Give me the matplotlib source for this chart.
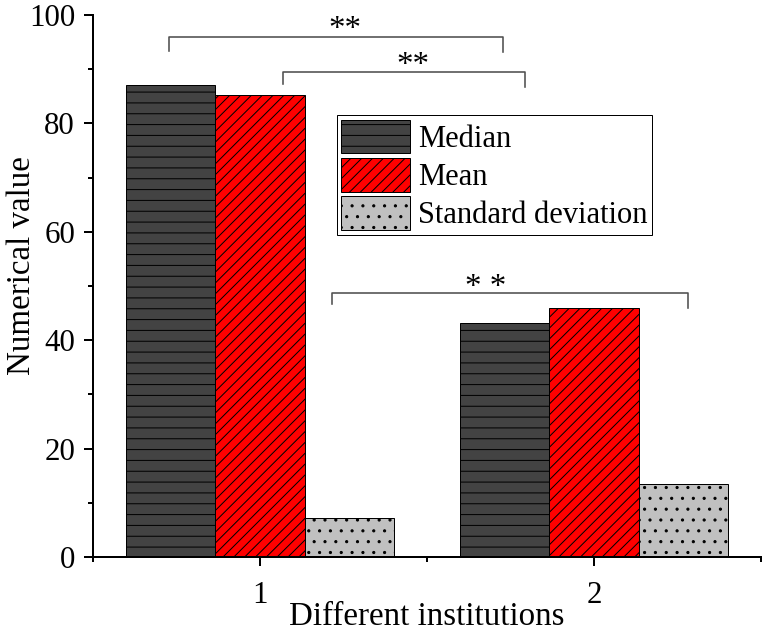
import numpy as np
import matplotlib
matplotlib.use("Agg")
import matplotlib.pyplot as plt
from matplotlib.ticker import MultipleLocator, FixedLocator

# === Data ===
groups = [1, 2]
series_names = ["Median", "Mean", "Standard deviation"]
median_vals = [87.1, 43.2]
mean_vals = [85.3, 46.0]
std_vals = [7.2, 13.5]

# significance brackets: left x, right x, bar y, left leg end, right leg end, label, label x, label y
bracket_left = [0.728, 1.068, 1.215]
bracket_right = [1.728, 1.793, 2.281]
bracket_y = [95.9, 89.4, 48.8]
bracket_leg_left = [93.4, 87.3, 46.7]
bracket_leg_right = [93.2, 86.7, 46.0]
bracket_text = ["**", "**", "* *"]
bracket_text_x = [1.255, 1.458, 1.677]
bracket_text_y = [97.3, 90.7, 49.6]

# === Style ===
DPI = 65
def pt(px):
    return px * 72.0 / DPI

plt.rcParams['font.family'] = ['Liberation Serif', 'DejaVu Serif']
plt.rcParams['hatch.linewidth'] = pt(1.0)

colors = ['#434343', '#ff0000', '#c0c0c0']
hatches = ['-', '//', '.']
tick_fs = pt(31)
label_fs = pt(33)
legend_fs = pt(30.5)

fig = plt.figure(figsize=(765 / DPI, 633 / DPI), dpi=DPI)
ax = fig.add_axes([93 / 765, 1 - 557 / 633, 668 / 765, 542 / 633])

width = 0.8 / 3
x = np.array(groups, dtype=float)
for i, (vals, name) in enumerate(zip([median_vals, mean_vals, std_vals], series_names)):
    ax.bar(x + (i - 1) * width, vals, width, color=colors[i], edgecolor='black',
           linewidth=pt(1.0), hatch=hatches[i], label=name, zorder=2)

# === Significance brackets ===
for i in range(len(bracket_y)):
    ax.plot([bracket_left[i], bracket_left[i], bracket_right[i], bracket_right[i]],
            [bracket_leg_left[i], bracket_y[i], bracket_y[i], bracket_leg_right[i]],
            color='#505050', lw=pt(1.6), clip_on=False, zorder=3)
    ax.text(bracket_text_x[i], bracket_text_y[i], bracket_text[i], ha='center',
            va='center', fontsize=pt(33), color='black')

# === Axes formatting ===
ax.set_xlim(0.5, 2.5)
ax.set_ylim(0, 100)
ax.xaxis.set_major_locator(FixedLocator([1, 2]))
ax.xaxis.set_minor_locator(FixedLocator([0.5, 1.5, 2.5]))
ax.yaxis.set_major_locator(MultipleLocator(20))
ax.yaxis.set_minor_locator(MultipleLocator(10))
ax.spines['top'].set_visible(False)
ax.spines['right'].set_visible(False)
for s in ['left', 'bottom']:
    ax.spines[s].set_linewidth(pt(2.0))
ax.tick_params(which='major', length=pt(9), width=pt(2.0), labelsize=tick_fs)
ax.tick_params(axis='y', which='major', pad=pt(9))
ax.tick_params(axis='x', which='major', pad=pt(15))
ax.tick_params(which='minor', length=pt(5), width=pt(2.0))

ax.set_xlabel('Different institutions', fontsize=label_fs)
ax.set_ylabel('Numerical value', fontsize=label_fs)
ax.xaxis.set_label_coords(0.5, -0.0825)
ax.yaxis.set_label_coords(-0.0838, 0.538)

leg = ax.legend(loc='upper left', bbox_to_anchor=(0.365, 0.8155), borderaxespad=0,
                frameon=True, fancybox=False, edgecolor='black', framealpha=1,
                handlelength=2.25, handleheight=1.32, labelspacing=0.14,
                borderpad=0.15, handletextpad=0.25, fontsize=legend_fs)
leg.get_frame().set_linewidth(pt(1.0))

fig.savefig('out.png', dpi=DPI)
